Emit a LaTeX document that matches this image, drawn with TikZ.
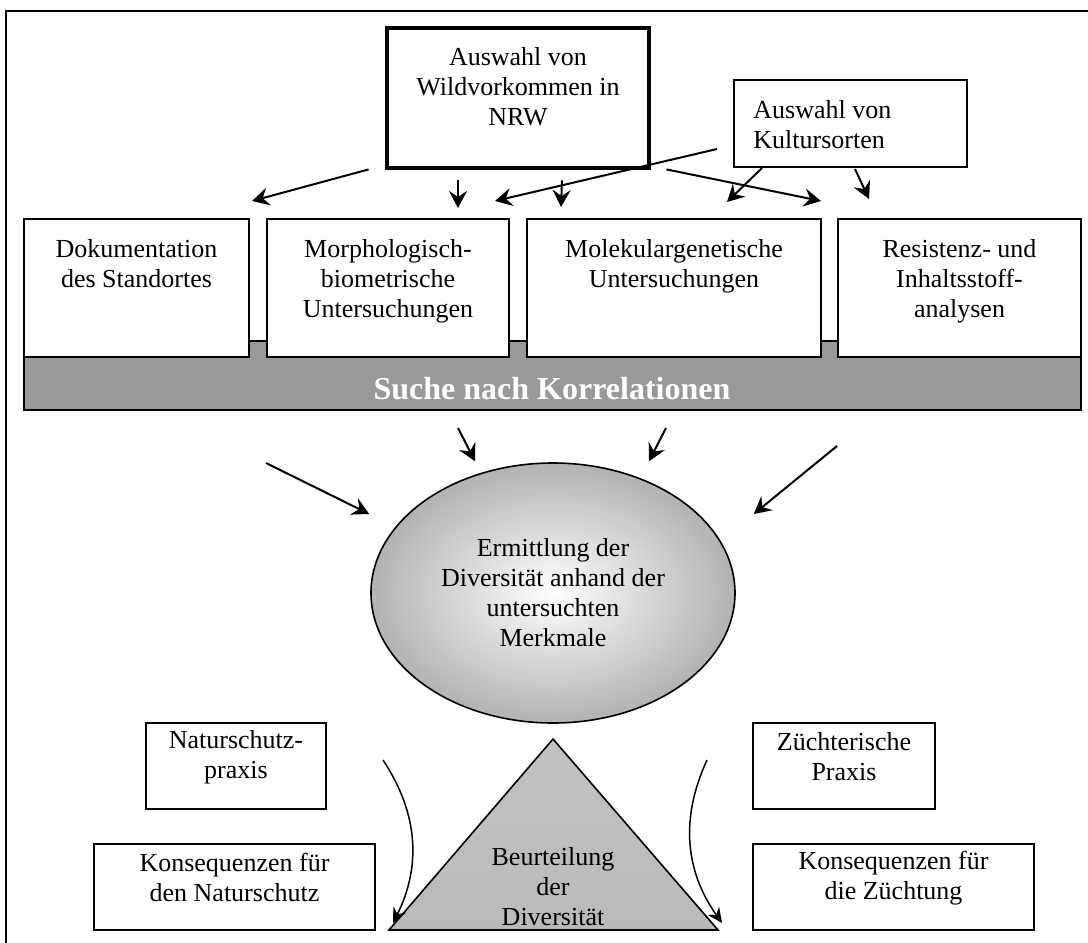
\documentclass[tikz,border=0pt]{standalone}
\usepackage{fontspec}
\setmainfont{Liberation Serif}
\usetikzlibrary{positioning,fit,shapes.geometric,arrows.meta}

\tikzset{
  box/.style={draw, line width=1pt, fill=white, inner sep=0pt},
  wildbox/.style={draw, line width=2.4pt, fill=white, inner sep=0pt},
  txt/.style={align=center, inner sep=0pt, font=\fontsize{13}{15}\selectfont},
  pfeil/.style={-{Stealth[length=8.5pt,width=9pt,inset=3pt]}, line width=1pt},
  bogen/.style={-{Stealth[length=7.5pt,width=7pt,inset=2.5pt]}, line width=0.75pt},
}

\begin{document}
\begin{tikzpicture}[x=0.5pt,y=-0.5pt]
\useasboundingbox (0,0) rectangle (1088,943);
\clip (0,0) rectangle (1088,943);
\draw[line width=1pt] (6,11) rectangle (1100,960);

% Auswahl oben
\node(wild) [wildbox, fit={(387,28) (649,168)}] {};
\node(wildtxt) [txt, below=10.6pt of wild.north] {Auswahl von\\Wildvorkommen in\\NRW};
\node(kultur) [box, fit={(734,80) (967,167)}] {};
\node(kulturtxt) [txt, align=left, below right=10.6pt and 10pt of kultur.north west] {Auswahl von\\Kultursorten};

% Balken + Untersuchungen
\node(band) [draw, line width=1pt, fill=black!40, inner sep=0pt, fit={(24,341) (1081,410)}] {};
\node(suche) at (552,389) [font=\fontsize{16}{18}\selectfont\bfseries, text=white] {Suche nach Korrelationen};

\node(doku) [box, fit={(24,219) (249,357)}] {};
\node(morph) [box, fit={(267,219) (509,357)}] {};
\node(molek) [box, fit={(527,219) (821,357)}] {};
\node(resist) [box, fit={(838,219) (1081,357)}] {};
\node(dokutxt) [txt, below=10.6pt of doku.north] {Dokumentation\\des Standortes};
\node(morphtxt) [txt, below=10.6pt of morph.north] {Morphologisch-\\biometrische\\Untersuchungen};
\node(molektxt) [txt, below=10.6pt of molek.north] {Molekulargenetische\\Untersuchungen};
\node(resisttxt) [txt, below=10.6pt of resist.north] {Resistenz- und\\Inhaltsstoff-\\analysen};

\draw[pfeil] ([shift={(-16,-1)}]wild.south west) -- ([shift={(2,-17)}]doku.north east);
\draw[pfeil] ([shift={(-60,10)}]wild.south) -- ([shift={(70,-10)}]morph.north);
\draw[pfeil] ([shift={(-16,25.5)}]kultur.west) -- ([shift={(-15,-17)}]morph.north east);
\draw[pfeil] ([shift={(44,10)}]wild.south) -- ([shift={(35,-11)}]molek.north west);
\draw[pfeil] ([shift={(15,-1)}]wild.south east) -- ([shift={(-1,-17)}]molek.north east);
\draw[pfeil] ([shift={(29,0)}]kultur.south west) -- ([shift={(53,-16)}]molek.north);
\draw[pfeil] ([shift={(4.5,1)}]kultur.south) -- ([shift={(32,-19)}]resist.north west);

% Ellipse
\node(erm) at (553,593) [ellipse, draw, line width=0.8pt, minimum width=182pt, minimum height=130pt,
   inner color=white, outer color=black!30, txt] {Ermittlung der\\Diversität anhand der\\untersuchten\\Merkmale};

\draw[pfeil] ([shift={(-94.5,17)}]band.south) -- ([shift={(-78,-1)}]erm.north);
\draw[pfeil] ([shift={(113.5,17)}]band.south) -- ([shift={(96,-1)}]erm.north);
\draw[pfeil] ([shift={(243,52)}]band.south west) -- ([shift={(-1,-79)}]erm.west);
\draw[pfeil] ([shift={(-245,35)}]band.south east) -- ([shift={(18,-79)}]erm.east);

% Dreieck
\draw[line width=0.8pt, top color=black!24, middle color=black!11, bottom color=black!27]
   (553,739) -- (718,930) -- (389,930) -- cycle;
\node(beurt) at (553,887) [txt] {Beurteilung\\der\\Diversität};

% Praxis
\node(natur) [box, txt, fit={(146,723) (326,809)}] {Naturschutz-\\praxis};
\node(zuecht) [box, txt, fit={(753,723) (935,809)}] {Züchterische\\Praxis};
\node(konsl) [box, txt, fit={(94,844) (375,930)}] {Konsequenzen für\\den Naturschutz};
\node(konsr) [box, txt, fit={(753,844) (1034,930)}] {Konsequenzen für\\die Züchtung};

\draw[bogen] ([shift={(56,-6)}]natur.east) to[bend left=30] ([shift={(17,36)}]konsl.east);
\draw[bogen] ([shift={(-45,-6)}]zuecht.west) to[bend right=30] ([shift={(-30,36)}]konsr.west);

\end{tikzpicture}
\end{document}
